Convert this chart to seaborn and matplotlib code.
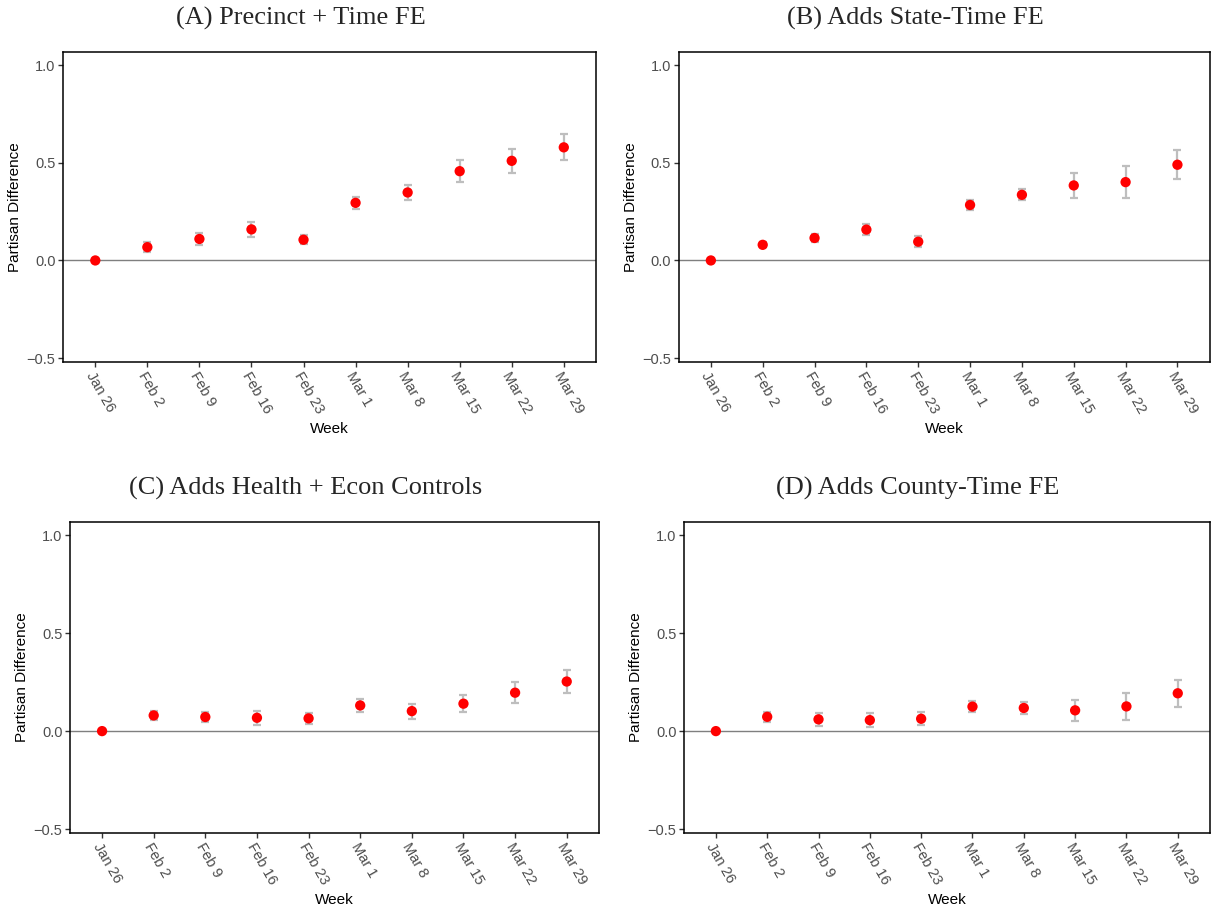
import numpy as np
import pandas as pd
import matplotlib
matplotlib.use("Agg")
import matplotlib.pyplot as plt
import seaborn as sns

weeks = ["Jan 26", "Feb 2", "Feb 9", "Feb 16", "Feb 23", "Mar 1", "Mar 8", "Mar 15", "Mar 22", "Mar 29"]

titles = ["(A) Precinct + Time FE", "(B) Adds State-Time FE",
          "(C) Adds Health + Econ Controls", "(D) Adds County-Time FE"]

est_a = [0.0, 0.068, 0.110, 0.159, 0.106, 0.295, 0.348, 0.457, 0.510, 0.579]
err_a = [0.0, 0.027, 0.033, 0.039, 0.024, 0.032, 0.036, 0.056, 0.061, 0.067]

est_b = [0.0, 0.080, 0.115, 0.158, 0.096, 0.284, 0.336, 0.384, 0.401, 0.490]
err_b = [0.0, 0.012, 0.021, 0.028, 0.027, 0.025, 0.028, 0.063, 0.080, 0.074]

est_c = [0.0, 0.080, 0.072, 0.068, 0.065, 0.131, 0.102, 0.140, 0.196, 0.253]
err_c = [0.0, 0.024, 0.028, 0.037, 0.028, 0.032, 0.038, 0.045, 0.055, 0.058]

est_d = [0.0, 0.073, 0.060, 0.056, 0.063, 0.125, 0.118, 0.106, 0.126, 0.193]
err_d = [0.0, 0.026, 0.034, 0.037, 0.032, 0.030, 0.033, 0.053, 0.068, 0.068]

yticks = [-0.5, 0.0, 0.5, 1.0]
ytick_labels = ["\u22120.5", "0.0", "0.5", "1.0"]

sns.set_theme(style="white")
plt.rcParams['font.family'] = ['Liberation Sans', 'DejaVu Sans']

fig = plt.figure(figsize=(12.12, 9.11), dpi=100)

positions = [
    [0.052, 0.6026, 0.4398, 0.3403],
    [0.560, 0.6026, 0.438, 0.3403],
    [0.0578, 0.0856, 0.4362, 0.3414],
    [0.5644, 0.0856, 0.4336, 0.3414],
]

series = [(est_a, err_a), (est_b, err_b), (est_c, err_c), (est_d, err_d)]

tick_gray = "#4D4D4D"
fig_w_px = 1212

for pos, title, (est, err) in zip(positions, titles, series):
    ax = fig.add_axes(pos)
    df = pd.DataFrame({"x": np.arange(len(weeks)), "week": weeks, "est": est, "err": err})
    ax.axhline(0, color="#7F7F7F", lw=1.0, zorder=1)
    ax.errorbar(df["x"], df["est"], yerr=df["err"], fmt="none",
                ecolor="#BEBEBE", elinewidth=1.6, capsize=2.6, capthick=1.6, zorder=2)
    sns.scatterplot(data=df, x="x", y="est", ax=ax, color="red", s=55,
                    edgecolor="none", linewidth=0, zorder=3, legend=False)
    ax.set_xlim(-0.62, len(weeks) - 1 + 0.62)
    ax.set_ylim(-0.52, 1.067)
    ax.set_xticks(df["x"])
    ax.set_xticklabels(weeks, rotation=-60, ha="left", va="top",
                       rotation_mode="anchor", color=tick_gray, fontsize=10.5)
    ax.set_yticks(yticks)
    ax.set_yticklabels(ytick_labels, color=tick_gray, fontsize=10.5)
    ax.tick_params(axis="both", which="major", length=3.5, width=1.0,
                   color="#333333", direction="out", bottom=True, left=True, pad=2)
    ax.set_xlabel("Week", fontsize=11, color="black", labelpad=4.5)
    ax.set_ylabel("Partisan Difference", fontsize=11, color="black", labelpad=3)
    for sp in ax.spines.values():
        sp.set_visible(True)
        sp.set_color("black")
        sp.set_linewidth(1.1)
    w_px = pos[2] * fig_w_px
    ax.set_title(title, fontsize=19, family=["Liberation Serif", "DejaVu Serif"],
                 pad=20, x=0.5 - 29.0 / w_px)

fig.savefig("out.png", dpi=100)
